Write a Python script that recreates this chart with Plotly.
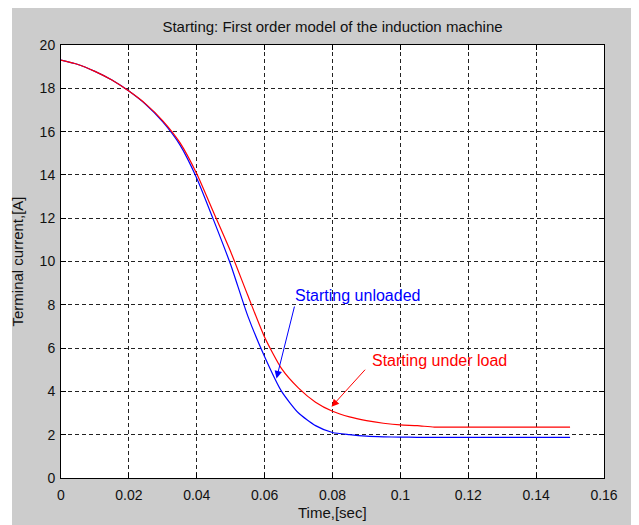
import plotly.graph_objects as go

# ---- data ----
time_s = [0, 0.005, 0.01, 0.015, 0.02, 0.025, 0.03, 0.035, 0.04, 0.045,
          0.05, 0.055, 0.06, 0.065, 0.07, 0.075, 0.08, 0.085, 0.09, 0.095,
          0.1, 0.105, 0.11, 0.12, 0.13, 0.14, 0.15]
current_unloaded = [19.3, 19.1, 18.78, 18.38, 17.87, 17.25, 16.45, 15.4, 13.85, 11.9,
                    9.85, 7.5, 5.6, 4.0, 3.0, 2.42, 2.1, 2.0, 1.93, 1.9,
                    1.89, 1.88, 1.88, 1.88, 1.88, 1.88, 1.88]
current_loaded = [19.3, 19.1, 18.78, 18.38, 17.87, 17.27, 16.5, 15.5, 14.05, 12.25,
                  10.45, 8.45, 6.5, 5.05, 4.15, 3.5, 3.08, 2.82, 2.65, 2.53,
                  2.45, 2.42, 2.35, 2.35, 2.35, 2.35, 2.35]

x_ticks = [0, 0.02, 0.04, 0.06, 0.08, 0.1, 0.12, 0.14, 0.16]
x_tick_labels = ["0", "0.02", "0.04", "0.06", "0.08", "0.1", "0.12", "0.14", "0.16"]
y_ticks = [0, 2, 4, 6, 8, 10, 12, 14, 16, 18, 20]

title_text = "Starting: First order model of the induction machine"
x_title = "Time,[sec]"
y_title = "Terminal current,[A]"
label_unloaded = "Starting unloaded"
label_loaded = "Starting under load"

# annotation anchor points (data units)
unloaded_text_pos = (0.0684, 8.45)
unloaded_arrow_tail = (0.0689, 7.99)
unloaded_arrow_head = (0.0635, 4.6)
loaded_text_pos = (0.0910, 5.45)
loaded_arrow_tail = (0.0900, 5.07)
loaded_arrow_head = (0.0797, 3.29)

FONT = "Liberation Sans, Arial, sans-serif"
GRAY = "#cccccc"

fig = go.Figure()
fig.add_trace(go.Scatter(x=time_s, y=current_unloaded, mode="lines",
                         line=dict(color="#0000ff", width=1.2, shape="spline", smoothing=0.6),
                         name=label_unloaded, showlegend=False))
fig.add_trace(go.Scatter(x=time_s, y=current_loaded, mode="lines",
                         line=dict(color="#ff0000", width=1.2, shape="spline", smoothing=0.6),
                         name=label_loaded, showlegend=False))

axis_common = dict(
    showline=True, linecolor="black", linewidth=1, mirror="ticks",
    ticks="inside", ticklen=5, tickcolor="black", tickwidth=1,
    showgrid=True, gridcolor="#222222", gridwidth=1, griddash="4px,3px",
    zeroline=False, tickfont=dict(family=FONT, size=14, color="#111111"),
)

fig.update_xaxes(range=[0, 0.16], tickvals=x_ticks, ticktext=x_tick_labels,
                 ticklabelstandoff=4, **axis_common)
fig.update_yaxes(range=[0, 20], tickvals=y_ticks, ticklabelstandoff=2, **axis_common)

annotations = [
    dict(x=unloaded_text_pos[0], y=unloaded_text_pos[1], xref="x", yref="y",
         text=label_unloaded, showarrow=False, xanchor="left", yanchor="middle",
         font=dict(family=FONT, size=16, color="#0000ff")),
    dict(x=unloaded_arrow_head[0], y=unloaded_arrow_head[1], xref="x", yref="y",
         ax=unloaded_arrow_tail[0], ay=unloaded_arrow_tail[1], axref="x", ayref="y",
         text="", showarrow=True, arrowhead=2, arrowsize=1.5, arrowwidth=1,
         arrowcolor="#0000ff", standoff=0, startstandoff=0),
    dict(x=loaded_text_pos[0], y=loaded_text_pos[1], xref="x", yref="y",
         text=label_loaded, showarrow=False, xanchor="left", yanchor="middle",
         font=dict(family=FONT, size=16, color="#ff0000")),
    dict(x=loaded_arrow_head[0], y=loaded_arrow_head[1], xref="x", yref="y",
         ax=loaded_arrow_tail[0], ay=loaded_arrow_tail[1], axref="x", ayref="y",
         text="", showarrow=True, arrowhead=2, arrowsize=1.5, arrowwidth=1,
         arrowcolor="#ff0000", standoff=0, startstandoff=0),
    dict(x=0.5, y=0, xref="paper", yref="paper", yshift=-34,
         text=x_title, showarrow=False, xanchor="center", yanchor="middle",
         font=dict(family=FONT, size=15, color="#111111")),
    dict(x=0, y=0.5, xref="paper", yref="paper", xshift=-44,
         text=y_title, showarrow=False, xanchor="center", yanchor="middle", textangle=-90,
         font=dict(family=FONT, size=15, color="#111111")),
]

# the page body adds an 8 px offset, so the figure is 8 px smaller than the window
W, H = 631, 517
ml, mr, mt, mb = 53, 35, 37, 47
pw, ph = W - ml - mr, H - mt - mb
# extra white strip on the left of the window (outside the gray figure)
shapes = [
    dict(type="rect", xref="paper", yref="paper", layer="below",
         x0=-ml / pw, x1=(4 - ml) / pw, y0=-mb / ph, y1=(H - mb) / ph,
         fillcolor="white", line=dict(width=0)),
]

fig.update_layout(
    width=W, height=H,
    margin=dict(l=ml, r=mr, t=mt, b=mb),
    paper_bgcolor=GRAY, plot_bgcolor="white",
    title=dict(text=title_text, x=0.5, xref="paper", y=1 - 19 / H, yref="container",
               xanchor="center", yanchor="middle",
               font=dict(family=FONT, size=15, color="#111111")),
    annotations=annotations, shapes=shapes,
)

fig.write_html("out.html")
